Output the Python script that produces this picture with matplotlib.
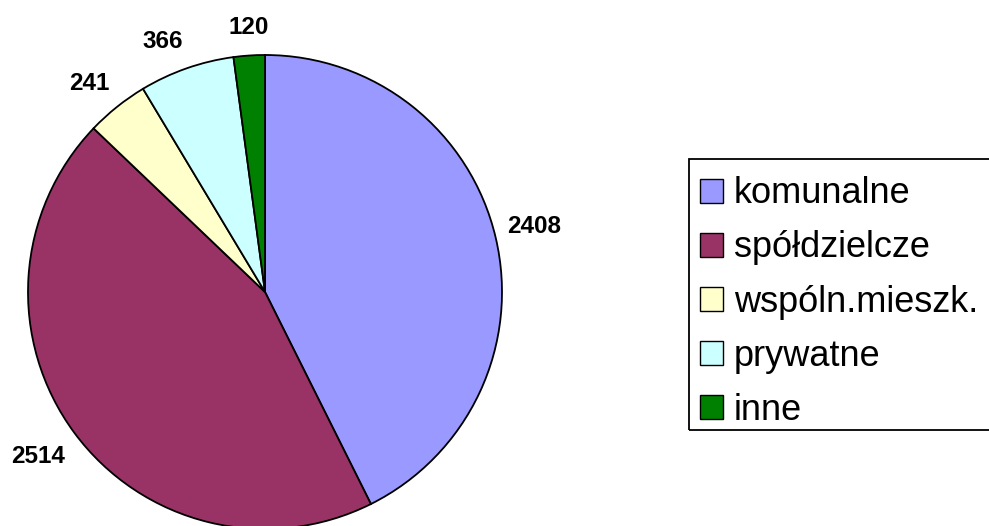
import matplotlib
matplotlib.use("Agg")
import matplotlib.pyplot as plt
from matplotlib.patches import Rectangle
import numpy as np

categories = ["komunalne", "spółdzielcze", "wspóln.mieszk.", "prywatne", "inne"]
values = [2408, 2514, 241, 366, 120]
value_labels = ["2408", "2514", "241", "366", "120"]
colors = ["#9999FF", "#993366", "#FFFFCC", "#CCFFFF", "#008000"]

plt.rcParams['font.family'] = ['Liberation Sans', 'DejaVu Sans']

W, H = 989, 526
fig = plt.figure(figsize=(W / 100, H / 100), dpi=100)
fig.patch.set_facecolor("white")

cx, cy, r = 265, 292, 237
ax = fig.add_axes([(cx - r) / W, (H - cy - r) / H, 2 * r / W, 2 * r / H])

wedges, _ = ax.pie(values, colors=colors, startangle=90,
                   counterclock=False, radius=1,
                   wedgeprops=dict(edgecolor="black", linewidth=1.3))
ax.set_aspect("auto")
ax.set_xlim(-1, 1)
ax.set_ylim(-1, 1)
ax.axis("off")
for w in wedges:
    w.set_clip_on(False)

# data labels placed just outside the wedge, anchored by the corner facing the pie
kx, ky = 1.048, 1.09
for w, lab in zip(wedges, value_labels):
    mid = np.deg2rad((w.theta1 + w.theta2) / 2)
    x, y = np.cos(mid), np.sin(mid)
    if abs(x) < 0.15:
        ha = "center"
    else:
        ha = "left" if x > 0 else "right"
    va = "baseline" if y > 0 else "top"
    ax.text(kx * x, ky * y, lab, ha=ha, va=va,
            fontsize=17.5, fontweight="bold", color="black", clip_on=False)

leg = fig.legend(wedges, categories, loc="upper left",
                 bbox_to_anchor=(689 / W, 1 - 165.5 / H), borderaxespad=0,
                 fontsize=26, frameon=False,
                 handlelength=0.64, handleheight=0.64, handletextpad=0.3,
                 borderpad=0.3, labelspacing=0.53)
for h in leg.legend_handles:
    h.set_linewidth(1.0)

fig.patches.append(Rectangle((689 / W, 1 - 430 / H), (1010 - 689) / W, (430 - 159) / H,
                             transform=fig.transFigure, fill=False,
                             edgecolor="black", linewidth=1.3, zorder=5))

fig.savefig("out.png", dpi=100)
